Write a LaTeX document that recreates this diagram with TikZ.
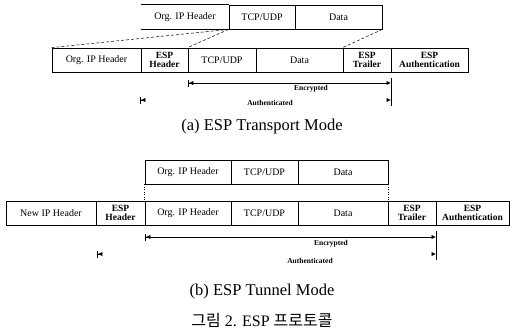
\documentclass[tikz,border=0pt]{standalone}
\usepackage{fontspec}
\setmainfont{Liberation Serif}
\newfontfamily\krfont{Noto Sans CJK KR}
\usetikzlibrary{arrows.meta}
\tikzset{
  pk/.style={draw, line width=0.8pt, inner sep=0pt, align=center,
    font=\fontsize{10}{10}\selectfont},
  pkb/.style={pk, font=\bfseries\fontsize{9.5}{9.5}\selectfont},
  nob/.style={pk, draw=none},
  conn/.style={line width=0.5pt, dash pattern=on 3pt off 2pt},
  dotl/.style={line width=0.5pt, dash pattern=on 1pt off 1.5pt},
  rng/.style={line width=0.8pt},
  lbl/.style={font=\bfseries\fontsize{7.5}{8}\selectfont, inner sep=0pt},
  captxt/.style={font=\fontsize{16.5}{17}\selectfont, inner sep=0pt},
  tipL/.style={{Bar[width=7pt,line width=0.9pt]Latex[length=4.5pt,width=4.5pt]}-},
  tipR/.style={-{Latex[length=4.5pt,width=4.5pt]}},
  tipLR/.style={{Bar[width=7pt,line width=0.9pt]Latex[length=4.5pt,width=4.5pt]}-{Latex[length=4.5pt,width=4.5pt]}},
}
\newcommand{\pbox}[7]{% style, name, x1, x2, y1, y2, text
  \node[#1, minimum width={(#4-#3)*1pt}, minimum height={(#6-#5)*1pt}]
    (#2) at ({(#3+#4)/2},{(#5+#6)/2}) {#7};}
\begin{document}
\begin{tikzpicture}[x=1pt,y=-1pt]
\useasboundingbox (0,0) rectangle (512,332);
% ---------- (a) ESP Transport Mode ----------
\pbox{nob}{aU1}{141}{229}{5}{29}{Org. IP Header}
\draw[line width=0.8pt] (aU1.north west) -- (aU1.north east) (aU1.south west) -- (aU1.south east);
\pbox{pk}{aU2}{229}{295}{5}{29}{TCP/UDP}
\pbox{pk}{aU3}{295}{382}{5}{29}{Data}

\pbox{pk}{aL1}{52}{141}{48}{72}{Org. IP Header}
\pbox{pkb}{aL2}{141}{188}{48}{72}{ESP\\Header}
\pbox{pk}{aL3}{188}{256}{48}{72}{TCP/UDP}
\pbox{pk}{aL4}{256}{343}{48}{72}{Data}
\pbox{pkb}{aL5}{343}{391}{48}{72}{ESP\\Trailer}
\pbox{pkb}{aL6}{391}{468}{48}{72}{ESP\\Authentication}

\draw[conn] (aU2.south west) -- (aL1.north west);
\draw[conn] (aU2.south west) -- (aL3.north west);
\draw[conn] (aU3.south east) -- (aL5.north west);

\coordinate (aEl) at (188,83);
\coordinate (aEr) at (391,83);
\coordinate (aAl) at (140,100);
\coordinate (aAr) at (391,100);
\coordinate (aVt) at (391,78);
\coordinate (aVb) at (391,106);
\draw[rng] (aVt) -- (aVb);
\draw[rng, tipLR] (aEl) -- (aEr);
\draw[rng, tipL] (aAl) -- ++(4.5,0);
\draw[rng, tipR] ([xshift=-4.5pt]aAr) -- (aAr);
\node[lbl] (aEt) at (311,89) {Encrypted};
\node[lbl] (aAt) at (270,103) {Authenticated};

\node[captxt] (capa) at (262,127) {(a) ESP Transport Mode};

% ---------- (b) ESP Tunnel Mode ----------
\pbox{pk}{bU1}{145}{231}{160}{184}{Org. IP Header}
\pbox{pk}{bU2}{231}{298}{160}{184}{TCP/UDP}
\pbox{pk}{bU3}{298}{388}{160}{184}{Data}

\pbox{pk}{bL1}{6}{96}{201}{225}{New IP Header}
\pbox{pkb}{bL2}{96}{145}{201}{225}{ESP\\Header}
\pbox{pk}{bL3}{145}{231}{201}{225}{Org. IP Header}
\pbox{pk}{bL4}{231}{298}{201}{225}{TCP/UDP}
\pbox{pk}{bL5}{298}{388}{201}{225}{Data}
\pbox{pkb}{bL6}{388}{436}{201}{225}{ESP\\Trailer}
\pbox{pkb}{bL7}{436}{509}{201}{225}{ESP\\Authentication}

\draw[dotl] (bU1.south west) -- (bL3.north west);
\draw[dotl] (bU3.south east) -- (bL5.north east);

\coordinate (bEl) at (145,237);
\coordinate (bEr) at (436,237);
\coordinate (bAl) at (97,254);
\coordinate (bAr) at (436,254);
\coordinate (bVt) at (436,231);
\coordinate (bVb) at (436,260);
\draw[rng] (bVt) -- (bVb);
\draw[rng, tipLR] (bEl) -- (bEr);
\draw[rng, tipL] (bAl) -- ++(4.5,0);
\draw[rng, tipR] ([xshift=-4.5pt]bAr) -- (bAr);
\node[lbl] (bEt) at (331,244) {Encrypted};
\node[lbl] (bAt) at (310,261) {Authenticated};

\node[captxt] (capb) at (262,292) {(b) ESP Tunnel Mode};
\node[captxt, font=\fontsize{16}{17}\selectfont] (capk) at (262,320) {{\krfont 그림} 2. ESP {\krfont 프로토콜}};
\end{tikzpicture}
\end{document}
